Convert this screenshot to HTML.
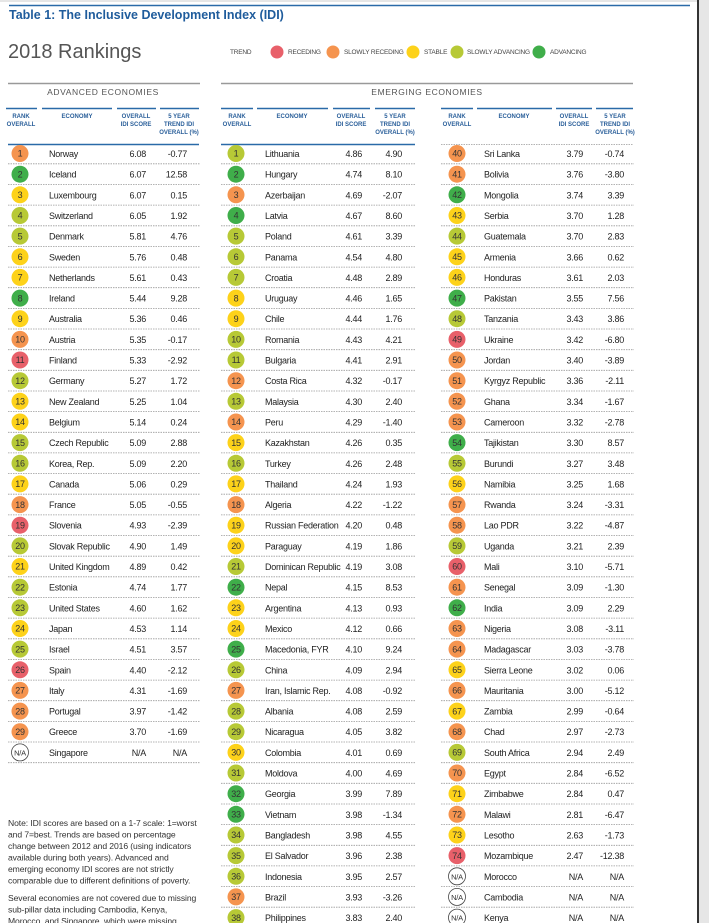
<!DOCTYPE html>
<html><head><meta charset="utf-8"><style>
html,body{margin:0;padding:0;background:#fff;}
svg{display:block;font-family:"Liberation Sans",Arial,sans-serif;}
.R{fill:#e8606a}.O{fill:#f5944f}.Y{fill:#fdd21a}.L{fill:#b7c936}.G{fill:#3fae4a}.N{fill:#fff;stroke:#444;stroke-width:.8}
text{font-size:9px;fill:#222;letter-spacing:-0.25px}
.r{text-anchor:middle;font-size:9px;fill:#333}
.e{text-anchor:end}
.h{font-size:6px;fill:#2a5f9a;font-weight:bold;text-anchor:middle;letter-spacing:0}
.lg{font-size:6.5px;fill:#444;letter-spacing:-0.2px}
.d{stroke:#9a9a9a;stroke-width:.8;stroke-dasharray:1.5 1}
.b{stroke:#2a6aa8;stroke-width:1.6}
.nt{font-size:8.6px;fill:#333;letter-spacing:-0.1px}
</style></head><body>
<svg width="709" height="923" viewBox="0 0 709 923" xmlns="http://www.w3.org/2000/svg">
<rect x="697" y="0" width="12" height="923" fill="#e6e6e6"/>
<rect x="697" y="0" width="2" height="923" fill="#333"/>
<line x1="0" y1="1" x2="697" y2="1" stroke="#ccc" stroke-width="1"/>
<line x1="9" y1="5.5" x2="690" y2="5.5" stroke="#2a6aa8" stroke-width="1.5"/>
<text x="9" y="19" style="font-size:12.5px;font-weight:bold;fill:#1f5c9c;letter-spacing:0">Table 1: The Inclusive Development Index (IDI)</text>
<text x="8" y="58" style="font-size:20px;fill:#555;letter-spacing:0">2018 Rankings</text>
<text x="230" y="54" class="lg">TREND</text>
<circle cx="277" cy="52" r="6.5" class="R"/><text x="288" y="54" class="lg">RECEDING</text>
<circle cx="333" cy="52" r="6.5" class="O"/><text x="344" y="54" class="lg">SLOWLY RECEDING</text>
<circle cx="413" cy="52" r="6.5" class="Y"/><text x="424" y="54" class="lg">STABLE</text>
<circle cx="457" cy="52" r="6.5" class="L"/><text x="467" y="54" class="lg">SLOWLY ADVANCING</text>
<circle cx="539" cy="52" r="6.5" class="G"/><text x="550" y="54" class="lg">ADVANCING</text>
<line x1="8" y1="83.5" x2="200" y2="83.5" stroke="#999" stroke-width="1.5"/>
<line x1="221" y1="83.5" x2="633" y2="83.5" stroke="#999" stroke-width="1.5"/>
<text x="103" y="95" style="font-size:8.5px;fill:#555;text-anchor:middle;letter-spacing:0.6px">ADVANCED ECONOMIES</text>
<text x="427" y="95" style="font-size:8.5px;fill:#555;text-anchor:middle;letter-spacing:0.6px">EMERGING ECONOMIES</text>
<g class="b">
<line x1="6" y1="108.5" x2="37" y2="108.5"/><line x1="42" y1="108.5" x2="112" y2="108.5"/><line x1="117" y1="108.5" x2="156" y2="108.5"/><line x1="160" y1="108.5" x2="199" y2="108.5"/>
<line x1="221" y1="108.5" x2="253" y2="108.5"/><line x1="257" y1="108.5" x2="328" y2="108.5"/><line x1="333" y1="108.5" x2="370" y2="108.5"/><line x1="375" y1="108.5" x2="415" y2="108.5"/>
<line x1="441" y1="108.5" x2="473" y2="108.5"/><line x1="477" y1="108.5" x2="552" y2="108.5"/><line x1="556" y1="108.5" x2="592" y2="108.5"/><line x1="596" y1="108.5" x2="633" y2="108.5"/>
<line x1="8" y1="144.5" x2="199" y2="144.5"/><line x1="221" y1="144.5" x2="415" y2="144.5"/>
</g>
<line x1="441" y1="144.5" x2="633" y2="144.5" class="d"/>
<g>
<text x="21" y="118" class="h">RANK</text><text x="21" y="126" class="h">OVERALL</text>
<text x="77" y="118" class="h">ECONOMY</text>
<text x="136" y="118" class="h">OVERALL</text><text x="136" y="126" class="h">IDI SCORE</text>
<text x="179" y="118" class="h">5 YEAR</text><text x="179" y="126" class="h">TREND IDI</text><text x="179" y="134" class="h">OVERALL (%)</text>
<text x="237" y="118" class="h">RANK</text><text x="237" y="126" class="h">OVERALL</text>
<text x="292" y="118" class="h">ECONOMY</text>
<text x="351" y="118" class="h">OVERALL</text><text x="351" y="126" class="h">IDI SCORE</text>
<text x="395" y="118" class="h">5 YEAR</text><text x="395" y="126" class="h">TREND IDI</text><text x="395" y="134" class="h">OVERALL (%)</text>
<text x="457" y="118" class="h">RANK</text><text x="457" y="126" class="h">OVERALL</text>
<text x="514" y="118" class="h">ECONOMY</text>
<text x="574" y="118" class="h">OVERALL</text><text x="574" y="126" class="h">IDI SCORE</text>
<text x="615" y="118" class="h">5 YEAR</text><text x="615" y="126" class="h">TREND IDI</text><text x="615" y="134" class="h">OVERALL (%)</text>
</g>

<g transform="translate(0,153.5)"><circle cx="20" r="8.5" class="O"/><text x="20" y="3.2" class="r">1</text><text x="49" y="3.5">Norway</text><text x="146" y="3.5" class="e">6.08</text><text x="187" y="3.5" class="e">-0.77</text><line x1="8" x2="200" y1="10.3" y2="10.3" class="d"/>
<circle cx="236" r="8.5" class="L"/><text x="236" y="3.2" class="r">1</text><text x="265" y="3.5">Lithuania</text><text x="362" y="3.5" class="e">4.86</text><text x="402" y="3.5" class="e">4.90</text><line x1="221" x2="416" y1="10.3" y2="10.3" class="d"/>
<circle cx="457" r="8.5" class="O"/><text x="457" y="3.2" class="r">40</text><text x="484" y="3.5">Sri Lanka</text><text x="583" y="3.5" class="e">3.79</text><text x="624" y="3.5" class="e">-0.74</text><line x1="441" x2="634" y1="10.3" y2="10.3" class="d"/></g>

<g transform="translate(0,174.2)"><circle cx="20" r="8.5" class="G"/><text x="20" y="3.2" class="r">2</text><text x="49" y="3.5">Iceland</text><text x="146" y="3.5" class="e">6.07</text><text x="187" y="3.5" class="e">12.58</text><line x1="8" x2="200" y1="10.3" y2="10.3" class="d"/>
<circle cx="236" r="8.5" class="G"/><text x="236" y="3.2" class="r">2</text><text x="265" y="3.5">Hungary</text><text x="362" y="3.5" class="e">4.74</text><text x="402" y="3.5" class="e">8.10</text><line x1="221" x2="416" y1="10.3" y2="10.3" class="d"/>
<circle cx="457" r="8.5" class="O"/><text x="457" y="3.2" class="r">41</text><text x="484" y="3.5">Bolivia</text><text x="583" y="3.5" class="e">3.76</text><text x="624" y="3.5" class="e">-3.80</text><line x1="441" x2="634" y1="10.3" y2="10.3" class="d"/></g>

<g transform="translate(0,194.8)"><circle cx="20" r="8.5" class="Y"/><text x="20" y="3.2" class="r">3</text><text x="49" y="3.5">Luxembourg</text><text x="146" y="3.5" class="e">6.07</text><text x="187" y="3.5" class="e">0.15</text><line x1="8" x2="200" y1="10.3" y2="10.3" class="d"/>
<circle cx="236" r="8.5" class="O"/><text x="236" y="3.2" class="r">3</text><text x="265" y="3.5">Azerbaijan</text><text x="362" y="3.5" class="e">4.69</text><text x="402" y="3.5" class="e">-2.07</text><line x1="221" x2="416" y1="10.3" y2="10.3" class="d"/>
<circle cx="457" r="8.5" class="G"/><text x="457" y="3.2" class="r">42</text><text x="484" y="3.5">Mongolia</text><text x="583" y="3.5" class="e">3.74</text><text x="624" y="3.5" class="e">3.39</text><line x1="441" x2="634" y1="10.3" y2="10.3" class="d"/></g>

<g transform="translate(0,215.5)"><circle cx="20" r="8.5" class="L"/><text x="20" y="3.2" class="r">4</text><text x="49" y="3.5">Switzerland</text><text x="146" y="3.5" class="e">6.05</text><text x="187" y="3.5" class="e">1.92</text><line x1="8" x2="200" y1="10.3" y2="10.3" class="d"/>
<circle cx="236" r="8.5" class="G"/><text x="236" y="3.2" class="r">4</text><text x="265" y="3.5">Latvia</text><text x="362" y="3.5" class="e">4.67</text><text x="402" y="3.5" class="e">8.60</text><line x1="221" x2="416" y1="10.3" y2="10.3" class="d"/>
<circle cx="457" r="8.5" class="Y"/><text x="457" y="3.2" class="r">43</text><text x="484" y="3.5">Serbia</text><text x="583" y="3.5" class="e">3.70</text><text x="624" y="3.5" class="e">1.28</text><line x1="441" x2="634" y1="10.3" y2="10.3" class="d"/></g>

<g transform="translate(0,236.1)"><circle cx="20" r="8.5" class="L"/><text x="20" y="3.2" class="r">5</text><text x="49" y="3.5">Denmark</text><text x="146" y="3.5" class="e">5.81</text><text x="187" y="3.5" class="e">4.76</text><line x1="8" x2="200" y1="10.3" y2="10.3" class="d"/>
<circle cx="236" r="8.5" class="L"/><text x="236" y="3.2" class="r">5</text><text x="265" y="3.5">Poland</text><text x="362" y="3.5" class="e">4.61</text><text x="402" y="3.5" class="e">3.39</text><line x1="221" x2="416" y1="10.3" y2="10.3" class="d"/>
<circle cx="457" r="8.5" class="L"/><text x="457" y="3.2" class="r">44</text><text x="484" y="3.5">Guatemala</text><text x="583" y="3.5" class="e">3.70</text><text x="624" y="3.5" class="e">2.83</text><line x1="441" x2="634" y1="10.3" y2="10.3" class="d"/></g>

<g transform="translate(0,256.8)"><circle cx="20" r="8.5" class="Y"/><text x="20" y="3.2" class="r">6</text><text x="49" y="3.5">Sweden</text><text x="146" y="3.5" class="e">5.76</text><text x="187" y="3.5" class="e">0.48</text><line x1="8" x2="200" y1="10.3" y2="10.3" class="d"/>
<circle cx="236" r="8.5" class="L"/><text x="236" y="3.2" class="r">6</text><text x="265" y="3.5">Panama</text><text x="362" y="3.5" class="e">4.54</text><text x="402" y="3.5" class="e">4.80</text><line x1="221" x2="416" y1="10.3" y2="10.3" class="d"/>
<circle cx="457" r="8.5" class="Y"/><text x="457" y="3.2" class="r">45</text><text x="484" y="3.5">Armenia</text><text x="583" y="3.5" class="e">3.66</text><text x="624" y="3.5" class="e">0.62</text><line x1="441" x2="634" y1="10.3" y2="10.3" class="d"/></g>

<g transform="translate(0,277.4)"><circle cx="20" r="8.5" class="Y"/><text x="20" y="3.2" class="r">7</text><text x="49" y="3.5">Netherlands</text><text x="146" y="3.5" class="e">5.61</text><text x="187" y="3.5" class="e">0.43</text><line x1="8" x2="200" y1="10.3" y2="10.3" class="d"/>
<circle cx="236" r="8.5" class="L"/><text x="236" y="3.2" class="r">7</text><text x="265" y="3.5">Croatia</text><text x="362" y="3.5" class="e">4.48</text><text x="402" y="3.5" class="e">2.89</text><line x1="221" x2="416" y1="10.3" y2="10.3" class="d"/>
<circle cx="457" r="8.5" class="Y"/><text x="457" y="3.2" class="r">46</text><text x="484" y="3.5">Honduras</text><text x="583" y="3.5" class="e">3.61</text><text x="624" y="3.5" class="e">2.03</text><line x1="441" x2="634" y1="10.3" y2="10.3" class="d"/></g>

<g transform="translate(0,298.1)"><circle cx="20" r="8.5" class="G"/><text x="20" y="3.2" class="r">8</text><text x="49" y="3.5">Ireland</text><text x="146" y="3.5" class="e">5.44</text><text x="187" y="3.5" class="e">9.28</text><line x1="8" x2="200" y1="10.3" y2="10.3" class="d"/>
<circle cx="236" r="8.5" class="Y"/><text x="236" y="3.2" class="r">8</text><text x="265" y="3.5">Uruguay</text><text x="362" y="3.5" class="e">4.46</text><text x="402" y="3.5" class="e">1.65</text><line x1="221" x2="416" y1="10.3" y2="10.3" class="d"/>
<circle cx="457" r="8.5" class="G"/><text x="457" y="3.2" class="r">47</text><text x="484" y="3.5">Pakistan</text><text x="583" y="3.5" class="e">3.55</text><text x="624" y="3.5" class="e">7.56</text><line x1="441" x2="634" y1="10.3" y2="10.3" class="d"/></g>

<g transform="translate(0,318.7)"><circle cx="20" r="8.5" class="Y"/><text x="20" y="3.2" class="r">9</text><text x="49" y="3.5">Australia</text><text x="146" y="3.5" class="e">5.36</text><text x="187" y="3.5" class="e">0.46</text><line x1="8" x2="200" y1="10.3" y2="10.3" class="d"/>
<circle cx="236" r="8.5" class="Y"/><text x="236" y="3.2" class="r">9</text><text x="265" y="3.5">Chile</text><text x="362" y="3.5" class="e">4.44</text><text x="402" y="3.5" class="e">1.76</text><line x1="221" x2="416" y1="10.3" y2="10.3" class="d"/>
<circle cx="457" r="8.5" class="L"/><text x="457" y="3.2" class="r">48</text><text x="484" y="3.5">Tanzania</text><text x="583" y="3.5" class="e">3.43</text><text x="624" y="3.5" class="e">3.86</text><line x1="441" x2="634" y1="10.3" y2="10.3" class="d"/></g>

<g transform="translate(0,339.4)"><circle cx="20" r="8.5" class="O"/><text x="20" y="3.2" class="r">10</text><text x="49" y="3.5">Austria</text><text x="146" y="3.5" class="e">5.35</text><text x="187" y="3.5" class="e">-0.17</text><line x1="8" x2="200" y1="10.3" y2="10.3" class="d"/>
<circle cx="236" r="8.5" class="L"/><text x="236" y="3.2" class="r">10</text><text x="265" y="3.5">Romania</text><text x="362" y="3.5" class="e">4.43</text><text x="402" y="3.5" class="e">4.21</text><line x1="221" x2="416" y1="10.3" y2="10.3" class="d"/>
<circle cx="457" r="8.5" class="R"/><text x="457" y="3.2" class="r">49</text><text x="484" y="3.5">Ukraine</text><text x="583" y="3.5" class="e">3.42</text><text x="624" y="3.5" class="e">-6.80</text><line x1="441" x2="634" y1="10.3" y2="10.3" class="d"/></g>

<g transform="translate(0,360)"><circle cx="20" r="8.5" class="R"/><text x="20" y="3.2" class="r">11</text><text x="49" y="3.5">Finland</text><text x="146" y="3.5" class="e">5.33</text><text x="187" y="3.5" class="e">-2.92</text><line x1="8" x2="200" y1="10.3" y2="10.3" class="d"/>
<circle cx="236" r="8.5" class="L"/><text x="236" y="3.2" class="r">11</text><text x="265" y="3.5">Bulgaria</text><text x="362" y="3.5" class="e">4.41</text><text x="402" y="3.5" class="e">2.91</text><line x1="221" x2="416" y1="10.3" y2="10.3" class="d"/>
<circle cx="457" r="8.5" class="O"/><text x="457" y="3.2" class="r">50</text><text x="484" y="3.5">Jordan</text><text x="583" y="3.5" class="e">3.40</text><text x="624" y="3.5" class="e">-3.89</text><line x1="441" x2="634" y1="10.3" y2="10.3" class="d"/></g>

<g transform="translate(0,380.7)"><circle cx="20" r="8.5" class="L"/><text x="20" y="3.2" class="r">12</text><text x="49" y="3.5">Germany</text><text x="146" y="3.5" class="e">5.27</text><text x="187" y="3.5" class="e">1.72</text><line x1="8" x2="200" y1="10.3" y2="10.3" class="d"/>
<circle cx="236" r="8.5" class="O"/><text x="236" y="3.2" class="r">12</text><text x="265" y="3.5">Costa Rica</text><text x="362" y="3.5" class="e">4.32</text><text x="402" y="3.5" class="e">-0.17</text><line x1="221" x2="416" y1="10.3" y2="10.3" class="d"/>
<circle cx="457" r="8.5" class="O"/><text x="457" y="3.2" class="r">51</text><text x="484" y="3.5">Kyrgyz Republic</text><text x="583" y="3.5" class="e">3.36</text><text x="624" y="3.5" class="e">-2.11</text><line x1="441" x2="634" y1="10.3" y2="10.3" class="d"/></g>

<g transform="translate(0,401.3)"><circle cx="20" r="8.5" class="Y"/><text x="20" y="3.2" class="r">13</text><text x="49" y="3.5">New Zealand</text><text x="146" y="3.5" class="e">5.25</text><text x="187" y="3.5" class="e">1.04</text><line x1="8" x2="200" y1="10.3" y2="10.3" class="d"/>
<circle cx="236" r="8.5" class="L"/><text x="236" y="3.2" class="r">13</text><text x="265" y="3.5">Malaysia</text><text x="362" y="3.5" class="e">4.30</text><text x="402" y="3.5" class="e">2.40</text><line x1="221" x2="416" y1="10.3" y2="10.3" class="d"/>
<circle cx="457" r="8.5" class="O"/><text x="457" y="3.2" class="r">52</text><text x="484" y="3.5">Ghana</text><text x="583" y="3.5" class="e">3.34</text><text x="624" y="3.5" class="e">-1.67</text><line x1="441" x2="634" y1="10.3" y2="10.3" class="d"/></g>

<g transform="translate(0,422)"><circle cx="20" r="8.5" class="Y"/><text x="20" y="3.2" class="r">14</text><text x="49" y="3.5">Belgium</text><text x="146" y="3.5" class="e">5.14</text><text x="187" y="3.5" class="e">0.24</text><line x1="8" x2="200" y1="10.3" y2="10.3" class="d"/>
<circle cx="236" r="8.5" class="O"/><text x="236" y="3.2" class="r">14</text><text x="265" y="3.5">Peru</text><text x="362" y="3.5" class="e">4.29</text><text x="402" y="3.5" class="e">-1.40</text><line x1="221" x2="416" y1="10.3" y2="10.3" class="d"/>
<circle cx="457" r="8.5" class="O"/><text x="457" y="3.2" class="r">53</text><text x="484" y="3.5">Cameroon</text><text x="583" y="3.5" class="e">3.32</text><text x="624" y="3.5" class="e">-2.78</text><line x1="441" x2="634" y1="10.3" y2="10.3" class="d"/></g>

<g transform="translate(0,442.6)"><circle cx="20" r="8.5" class="L"/><text x="20" y="3.2" class="r">15</text><text x="49" y="3.5">Czech Republic</text><text x="146" y="3.5" class="e">5.09</text><text x="187" y="3.5" class="e">2.88</text><line x1="8" x2="200" y1="10.3" y2="10.3" class="d"/>
<circle cx="236" r="8.5" class="Y"/><text x="236" y="3.2" class="r">15</text><text x="265" y="3.5">Kazakhstan</text><text x="362" y="3.5" class="e">4.26</text><text x="402" y="3.5" class="e">0.35</text><line x1="221" x2="416" y1="10.3" y2="10.3" class="d"/>
<circle cx="457" r="8.5" class="G"/><text x="457" y="3.2" class="r">54</text><text x="484" y="3.5">Tajikistan</text><text x="583" y="3.5" class="e">3.30</text><text x="624" y="3.5" class="e">8.57</text><line x1="441" x2="634" y1="10.3" y2="10.3" class="d"/></g>

<g transform="translate(0,463.3)"><circle cx="20" r="8.5" class="L"/><text x="20" y="3.2" class="r">16</text><text x="49" y="3.5">Korea, Rep.</text><text x="146" y="3.5" class="e">5.09</text><text x="187" y="3.5" class="e">2.20</text><line x1="8" x2="200" y1="10.3" y2="10.3" class="d"/>
<circle cx="236" r="8.5" class="L"/><text x="236" y="3.2" class="r">16</text><text x="265" y="3.5">Turkey</text><text x="362" y="3.5" class="e">4.26</text><text x="402" y="3.5" class="e">2.48</text><line x1="221" x2="416" y1="10.3" y2="10.3" class="d"/>
<circle cx="457" r="8.5" class="L"/><text x="457" y="3.2" class="r">55</text><text x="484" y="3.5">Burundi</text><text x="583" y="3.5" class="e">3.27</text><text x="624" y="3.5" class="e">3.48</text><line x1="441" x2="634" y1="10.3" y2="10.3" class="d"/></g>

<g transform="translate(0,483.9)"><circle cx="20" r="8.5" class="Y"/><text x="20" y="3.2" class="r">17</text><text x="49" y="3.5">Canada</text><text x="146" y="3.5" class="e">5.06</text><text x="187" y="3.5" class="e">0.29</text><line x1="8" x2="200" y1="10.3" y2="10.3" class="d"/>
<circle cx="236" r="8.5" class="Y"/><text x="236" y="3.2" class="r">17</text><text x="265" y="3.5">Thailand</text><text x="362" y="3.5" class="e">4.24</text><text x="402" y="3.5" class="e">1.93</text><line x1="221" x2="416" y1="10.3" y2="10.3" class="d"/>
<circle cx="457" r="8.5" class="Y"/><text x="457" y="3.2" class="r">56</text><text x="484" y="3.5">Namibia</text><text x="583" y="3.5" class="e">3.25</text><text x="624" y="3.5" class="e">1.68</text><line x1="441" x2="634" y1="10.3" y2="10.3" class="d"/></g>

<g transform="translate(0,504.6)"><circle cx="20" r="8.5" class="O"/><text x="20" y="3.2" class="r">18</text><text x="49" y="3.5">France</text><text x="146" y="3.5" class="e">5.05</text><text x="187" y="3.5" class="e">-0.55</text><line x1="8" x2="200" y1="10.3" y2="10.3" class="d"/>
<circle cx="236" r="8.5" class="O"/><text x="236" y="3.2" class="r">18</text><text x="265" y="3.5">Algeria</text><text x="362" y="3.5" class="e">4.22</text><text x="402" y="3.5" class="e">-1.22</text><line x1="221" x2="416" y1="10.3" y2="10.3" class="d"/>
<circle cx="457" r="8.5" class="O"/><text x="457" y="3.2" class="r">57</text><text x="484" y="3.5">Rwanda</text><text x="583" y="3.5" class="e">3.24</text><text x="624" y="3.5" class="e">-3.31</text><line x1="441" x2="634" y1="10.3" y2="10.3" class="d"/></g>

<g transform="translate(0,525.2)"><circle cx="20" r="8.5" class="R"/><text x="20" y="3.2" class="r">19</text><text x="49" y="3.5">Slovenia</text><text x="146" y="3.5" class="e">4.93</text><text x="187" y="3.5" class="e">-2.39</text><line x1="8" x2="200" y1="10.3" y2="10.3" class="d"/>
<circle cx="236" r="8.5" class="Y"/><text x="236" y="3.2" class="r">19</text><text x="265" y="3.5">Russian Federation</text><text x="362" y="3.5" class="e">4.20</text><text x="402" y="3.5" class="e">0.48</text><line x1="221" x2="416" y1="10.3" y2="10.3" class="d"/>
<circle cx="457" r="8.5" class="O"/><text x="457" y="3.2" class="r">58</text><text x="484" y="3.5">Lao PDR</text><text x="583" y="3.5" class="e">3.22</text><text x="624" y="3.5" class="e">-4.87</text><line x1="441" x2="634" y1="10.3" y2="10.3" class="d"/></g>

<g transform="translate(0,545.9)"><circle cx="20" r="8.5" class="L"/><text x="20" y="3.2" class="r">20</text><text x="49" y="3.5">Slovak Republic</text><text x="146" y="3.5" class="e">4.90</text><text x="187" y="3.5" class="e">1.49</text><line x1="8" x2="200" y1="10.3" y2="10.3" class="d"/>
<circle cx="236" r="8.5" class="Y"/><text x="236" y="3.2" class="r">20</text><text x="265" y="3.5">Paraguay</text><text x="362" y="3.5" class="e">4.19</text><text x="402" y="3.5" class="e">1.86</text><line x1="221" x2="416" y1="10.3" y2="10.3" class="d"/>
<circle cx="457" r="8.5" class="L"/><text x="457" y="3.2" class="r">59</text><text x="484" y="3.5">Uganda</text><text x="583" y="3.5" class="e">3.21</text><text x="624" y="3.5" class="e">2.39</text><line x1="441" x2="634" y1="10.3" y2="10.3" class="d"/></g>

<g transform="translate(0,566.5)"><circle cx="20" r="8.5" class="Y"/><text x="20" y="3.2" class="r">21</text><text x="49" y="3.5">United Kingdom</text><text x="146" y="3.5" class="e">4.89</text><text x="187" y="3.5" class="e">0.42</text><line x1="8" x2="200" y1="10.3" y2="10.3" class="d"/>
<circle cx="236" r="8.5" class="L"/><text x="236" y="3.2" class="r">21</text><text x="265" y="3.5">Dominican Republic</text><text x="362" y="3.5" class="e">4.19</text><text x="402" y="3.5" class="e">3.08</text><line x1="221" x2="416" y1="10.3" y2="10.3" class="d"/>
<circle cx="457" r="8.5" class="R"/><text x="457" y="3.2" class="r">60</text><text x="484" y="3.5">Mali</text><text x="583" y="3.5" class="e">3.10</text><text x="624" y="3.5" class="e">-5.71</text><line x1="441" x2="634" y1="10.3" y2="10.3" class="d"/></g>

<g transform="translate(0,587.2)"><circle cx="20" r="8.5" class="L"/><text x="20" y="3.2" class="r">22</text><text x="49" y="3.5">Estonia</text><text x="146" y="3.5" class="e">4.74</text><text x="187" y="3.5" class="e">1.77</text><line x1="8" x2="200" y1="10.3" y2="10.3" class="d"/>
<circle cx="236" r="8.5" class="G"/><text x="236" y="3.2" class="r">22</text><text x="265" y="3.5">Nepal</text><text x="362" y="3.5" class="e">4.15</text><text x="402" y="3.5" class="e">8.53</text><line x1="221" x2="416" y1="10.3" y2="10.3" class="d"/>
<circle cx="457" r="8.5" class="O"/><text x="457" y="3.2" class="r">61</text><text x="484" y="3.5">Senegal</text><text x="583" y="3.5" class="e">3.09</text><text x="624" y="3.5" class="e">-1.30</text><line x1="441" x2="634" y1="10.3" y2="10.3" class="d"/></g>

<g transform="translate(0,607.8)"><circle cx="20" r="8.5" class="L"/><text x="20" y="3.2" class="r">23</text><text x="49" y="3.5">United States</text><text x="146" y="3.5" class="e">4.60</text><text x="187" y="3.5" class="e">1.62</text><line x1="8" x2="200" y1="10.3" y2="10.3" class="d"/>
<circle cx="236" r="8.5" class="Y"/><text x="236" y="3.2" class="r">23</text><text x="265" y="3.5">Argentina</text><text x="362" y="3.5" class="e">4.13</text><text x="402" y="3.5" class="e">0.93</text><line x1="221" x2="416" y1="10.3" y2="10.3" class="d"/>
<circle cx="457" r="8.5" class="G"/><text x="457" y="3.2" class="r">62</text><text x="484" y="3.5">India</text><text x="583" y="3.5" class="e">3.09</text><text x="624" y="3.5" class="e">2.29</text><line x1="441" x2="634" y1="10.3" y2="10.3" class="d"/></g>

<g transform="translate(0,628.5)"><circle cx="20" r="8.5" class="Y"/><text x="20" y="3.2" class="r">24</text><text x="49" y="3.5">Japan</text><text x="146" y="3.5" class="e">4.53</text><text x="187" y="3.5" class="e">1.14</text><line x1="8" x2="200" y1="10.3" y2="10.3" class="d"/>
<circle cx="236" r="8.5" class="Y"/><text x="236" y="3.2" class="r">24</text><text x="265" y="3.5">Mexico</text><text x="362" y="3.5" class="e">4.12</text><text x="402" y="3.5" class="e">0.66</text><line x1="221" x2="416" y1="10.3" y2="10.3" class="d"/>
<circle cx="457" r="8.5" class="O"/><text x="457" y="3.2" class="r">63</text><text x="484" y="3.5">Nigeria</text><text x="583" y="3.5" class="e">3.08</text><text x="624" y="3.5" class="e">-3.11</text><line x1="441" x2="634" y1="10.3" y2="10.3" class="d"/></g>

<g transform="translate(0,649.1)"><circle cx="20" r="8.5" class="L"/><text x="20" y="3.2" class="r">25</text><text x="49" y="3.5">Israel</text><text x="146" y="3.5" class="e">4.51</text><text x="187" y="3.5" class="e">3.57</text><line x1="8" x2="200" y1="10.3" y2="10.3" class="d"/>
<circle cx="236" r="8.5" class="G"/><text x="236" y="3.2" class="r">25</text><text x="265" y="3.5">Macedonia, FYR</text><text x="362" y="3.5" class="e">4.10</text><text x="402" y="3.5" class="e">9.24</text><line x1="221" x2="416" y1="10.3" y2="10.3" class="d"/>
<circle cx="457" r="8.5" class="O"/><text x="457" y="3.2" class="r">64</text><text x="484" y="3.5">Madagascar</text><text x="583" y="3.5" class="e">3.03</text><text x="624" y="3.5" class="e">-3.78</text><line x1="441" x2="634" y1="10.3" y2="10.3" class="d"/></g>

<g transform="translate(0,669.8)"><circle cx="20" r="8.5" class="R"/><text x="20" y="3.2" class="r">26</text><text x="49" y="3.5">Spain</text><text x="146" y="3.5" class="e">4.40</text><text x="187" y="3.5" class="e">-2.12</text><line x1="8" x2="200" y1="10.3" y2="10.3" class="d"/>
<circle cx="236" r="8.5" class="L"/><text x="236" y="3.2" class="r">26</text><text x="265" y="3.5">China</text><text x="362" y="3.5" class="e">4.09</text><text x="402" y="3.5" class="e">2.94</text><line x1="221" x2="416" y1="10.3" y2="10.3" class="d"/>
<circle cx="457" r="8.5" class="Y"/><text x="457" y="3.2" class="r">65</text><text x="484" y="3.5">Sierra Leone</text><text x="583" y="3.5" class="e">3.02</text><text x="624" y="3.5" class="e">0.06</text><line x1="441" x2="634" y1="10.3" y2="10.3" class="d"/></g>

<g transform="translate(0,690.4)"><circle cx="20" r="8.5" class="O"/><text x="20" y="3.2" class="r">27</text><text x="49" y="3.5">Italy</text><text x="146" y="3.5" class="e">4.31</text><text x="187" y="3.5" class="e">-1.69</text><line x1="8" x2="200" y1="10.3" y2="10.3" class="d"/>
<circle cx="236" r="8.5" class="O"/><text x="236" y="3.2" class="r">27</text><text x="265" y="3.5">Iran, Islamic Rep.</text><text x="362" y="3.5" class="e">4.08</text><text x="402" y="3.5" class="e">-0.92</text><line x1="221" x2="416" y1="10.3" y2="10.3" class="d"/>
<circle cx="457" r="8.5" class="O"/><text x="457" y="3.2" class="r">66</text><text x="484" y="3.5">Mauritania</text><text x="583" y="3.5" class="e">3.00</text><text x="624" y="3.5" class="e">-5.12</text><line x1="441" x2="634" y1="10.3" y2="10.3" class="d"/></g>

<g transform="translate(0,711.1)"><circle cx="20" r="8.5" class="O"/><text x="20" y="3.2" class="r">28</text><text x="49" y="3.5">Portugal</text><text x="146" y="3.5" class="e">3.97</text><text x="187" y="3.5" class="e">-1.42</text><line x1="8" x2="200" y1="10.3" y2="10.3" class="d"/>
<circle cx="236" r="8.5" class="L"/><text x="236" y="3.2" class="r">28</text><text x="265" y="3.5">Albania</text><text x="362" y="3.5" class="e">4.08</text><text x="402" y="3.5" class="e">2.59</text><line x1="221" x2="416" y1="10.3" y2="10.3" class="d"/>
<circle cx="457" r="8.5" class="Y"/><text x="457" y="3.2" class="r">67</text><text x="484" y="3.5">Zambia</text><text x="583" y="3.5" class="e">2.99</text><text x="624" y="3.5" class="e">-0.64</text><line x1="441" x2="634" y1="10.3" y2="10.3" class="d"/></g>

<g transform="translate(0,731.7)"><circle cx="20" r="8.5" class="O"/><text x="20" y="3.2" class="r">29</text><text x="49" y="3.5">Greece</text><text x="146" y="3.5" class="e">3.70</text><text x="187" y="3.5" class="e">-1.69</text><line x1="8" x2="200" y1="10.3" y2="10.3" class="d"/>
<circle cx="236" r="8.5" class="L"/><text x="236" y="3.2" class="r">29</text><text x="265" y="3.5">Nicaragua</text><text x="362" y="3.5" class="e">4.05</text><text x="402" y="3.5" class="e">3.82</text><line x1="221" x2="416" y1="10.3" y2="10.3" class="d"/>
<circle cx="457" r="8.5" class="O"/><text x="457" y="3.2" class="r">68</text><text x="484" y="3.5">Chad</text><text x="583" y="3.5" class="e">2.97</text><text x="624" y="3.5" class="e">-2.73</text><line x1="441" x2="634" y1="10.3" y2="10.3" class="d"/></g>

<g transform="translate(0,752.4)"><circle cx="20" r="8.5" class="N"/><text x="20" y="3" class="r" style="font-size:7.5px">N/A</text><text x="49" y="3.5">Singapore</text><text x="146" y="3.5" class="e">N/A</text><text x="187" y="3.5" class="e">N/A</text><line x1="8" x2="200" y1="10.3" y2="10.3" class="d"/>
<circle cx="236" r="8.5" class="Y"/><text x="236" y="3.2" class="r">30</text><text x="265" y="3.5">Colombia</text><text x="362" y="3.5" class="e">4.01</text><text x="402" y="3.5" class="e">0.69</text><line x1="221" x2="416" y1="10.3" y2="10.3" class="d"/>
<circle cx="457" r="8.5" class="L"/><text x="457" y="3.2" class="r">69</text><text x="484" y="3.5">South Africa</text><text x="583" y="3.5" class="e">2.94</text><text x="624" y="3.5" class="e">2.49</text><line x1="441" x2="634" y1="10.3" y2="10.3" class="d"/></g>

<g transform="translate(0,773)">
<circle cx="236" r="8.5" class="L"/><text x="236" y="3.2" class="r">31</text><text x="265" y="3.5">Moldova</text><text x="362" y="3.5" class="e">4.00</text><text x="402" y="3.5" class="e">4.69</text><line x1="221" x2="416" y1="10.3" y2="10.3" class="d"/>
<circle cx="457" r="8.5" class="O"/><text x="457" y="3.2" class="r">70</text><text x="484" y="3.5">Egypt</text><text x="583" y="3.5" class="e">2.84</text><text x="624" y="3.5" class="e">-6.52</text><line x1="441" x2="634" y1="10.3" y2="10.3" class="d"/></g>

<g transform="translate(0,793.7)">
<circle cx="236" r="8.5" class="G"/><text x="236" y="3.2" class="r">32</text><text x="265" y="3.5">Georgia</text><text x="362" y="3.5" class="e">3.99</text><text x="402" y="3.5" class="e">7.89</text><line x1="221" x2="416" y1="10.3" y2="10.3" class="d"/>
<circle cx="457" r="8.5" class="Y"/><text x="457" y="3.2" class="r">71</text><text x="484" y="3.5">Zimbabwe</text><text x="583" y="3.5" class="e">2.84</text><text x="624" y="3.5" class="e">0.47</text><line x1="441" x2="634" y1="10.3" y2="10.3" class="d"/></g>

<g transform="translate(0,814.3)">
<circle cx="236" r="8.5" class="G"/><text x="236" y="3.2" class="r">33</text><text x="265" y="3.5">Vietnam</text><text x="362" y="3.5" class="e">3.98</text><text x="402" y="3.5" class="e">-1.34</text><line x1="221" x2="416" y1="10.3" y2="10.3" class="d"/>
<circle cx="457" r="8.5" class="O"/><text x="457" y="3.2" class="r">72</text><text x="484" y="3.5">Malawi</text><text x="583" y="3.5" class="e">2.81</text><text x="624" y="3.5" class="e">-6.47</text><line x1="441" x2="634" y1="10.3" y2="10.3" class="d"/></g>

<g transform="translate(0,835)">
<circle cx="236" r="8.5" class="L"/><text x="236" y="3.2" class="r">34</text><text x="265" y="3.5">Bangladesh</text><text x="362" y="3.5" class="e">3.98</text><text x="402" y="3.5" class="e">4.55</text><line x1="221" x2="416" y1="10.3" y2="10.3" class="d"/>
<circle cx="457" r="8.5" class="Y"/><text x="457" y="3.2" class="r">73</text><text x="484" y="3.5">Lesotho</text><text x="583" y="3.5" class="e">2.63</text><text x="624" y="3.5" class="e">-1.73</text><line x1="441" x2="634" y1="10.3" y2="10.3" class="d"/></g>

<g transform="translate(0,855.6)">
<circle cx="236" r="8.5" class="L"/><text x="236" y="3.2" class="r">35</text><text x="265" y="3.5">El Salvador</text><text x="362" y="3.5" class="e">3.96</text><text x="402" y="3.5" class="e">2.38</text><line x1="221" x2="416" y1="10.3" y2="10.3" class="d"/>
<circle cx="457" r="8.5" class="R"/><text x="457" y="3.2" class="r">74</text><text x="484" y="3.5">Mozambique</text><text x="583" y="3.5" class="e">2.47</text><text x="624" y="3.5" class="e">-12.38</text><line x1="441" x2="634" y1="10.3" y2="10.3" class="d"/></g>

<g transform="translate(0,876.3)">
<circle cx="236" r="8.5" class="L"/><text x="236" y="3.2" class="r">36</text><text x="265" y="3.5">Indonesia</text><text x="362" y="3.5" class="e">3.95</text><text x="402" y="3.5" class="e">2.57</text><line x1="221" x2="416" y1="10.3" y2="10.3" class="d"/>
<circle cx="457" r="8.5" class="N"/><text x="457" y="3" class="r" style="font-size:7.5px">N/A</text><text x="484" y="3.5">Morocco</text><text x="583" y="3.5" class="e">N/A</text><text x="624" y="3.5" class="e">N/A</text><line x1="441" x2="634" y1="10.3" y2="10.3" class="d"/></g>

<g transform="translate(0,896.9)">
<circle cx="236" r="8.5" class="O"/><text x="236" y="3.2" class="r">37</text><text x="265" y="3.5">Brazil</text><text x="362" y="3.5" class="e">3.93</text><text x="402" y="3.5" class="e">-3.26</text><line x1="221" x2="416" y1="10.3" y2="10.3" class="d"/>
<circle cx="457" r="8.5" class="N"/><text x="457" y="3" class="r" style="font-size:7.5px">N/A</text><text x="484" y="3.5">Cambodia</text><text x="583" y="3.5" class="e">N/A</text><text x="624" y="3.5" class="e">N/A</text><line x1="441" x2="634" y1="10.3" y2="10.3" class="d"/></g>

<g transform="translate(0,917.6)">
<circle cx="236" r="8.5" class="L"/><text x="236" y="3.2" class="r">38</text><text x="265" y="3.5">Philippines</text><text x="362" y="3.5" class="e">3.83</text><text x="402" y="3.5" class="e">2.40</text>
<circle cx="457" r="8.5" class="N"/><text x="457" y="3" class="r" style="font-size:7.5px">N/A</text><text x="484" y="3.5">Kenya</text><text x="583" y="3.5" class="e">N/A</text><text x="624" y="3.5" class="e">N/A</text></g>

<text x="8" y="826" class="nt">Note: IDI scores are based on a 1-7 scale: 1=worst</text>
<text x="8" y="837.5" class="nt">and 7=best. Trends are based on percentage</text>
<text x="8" y="849" class="nt">change between 2012 and 2016 (using indicators</text>
<text x="8" y="860.5" class="nt">available during both years). Advanced and</text>
<text x="8" y="872" class="nt">emerging economy IDI scores are not strictly</text>
<text x="8" y="883.5" class="nt">comparable due to different definitions of poverty.</text>
<text x="8" y="901" class="nt">Several economies are not covered due to missing</text>
<text x="8" y="912.5" class="nt">sub-pillar data including Cambodia, Kenya,</text>
<text x="8" y="924" class="nt">Morocco, and Singapore, which were missing</text>
</svg>
</body></html>
